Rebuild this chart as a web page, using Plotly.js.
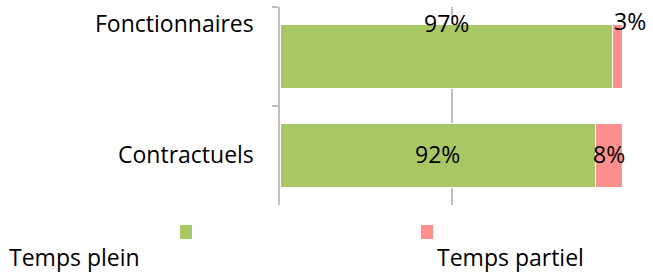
<!DOCTYPE html>
<html><head><meta charset="utf-8">
<script src="https://cdn.plot.ly/plotly-3.0.1.min.js"></script>
<style>html,body{margin:0;padding:0;background:#fff}#chart{width:653px;height:273px}</style>
</head><body><div id="chart"></div>
<script>
var categories = ["Fonctionnaires", "Contractuels"];
var seriesNames = ["Temps plein", "Temps partiel"];
var tempsPlein = [97, 92];
var tempsPartiel = [3, 8];
var colors = ["#A9C764", "#FF8F8F"];

var FONT = "Open Sans, Calibri, sans-serif";
var FS = 23;
var traces = [
  {type:"bar", orientation:"h", name:seriesNames[0], y:categories, x:tempsPlein.map(function(v){return v/100;}),
   marker:{color:colors[0], line:{color:"#fff", width:1.5}}, hoverinfo:"none"},
  {type:"bar", orientation:"h", name:seriesNames[1], y:categories, x:tempsPartiel.map(function(v){return v/100;}),
   marker:{color:colors[1], line:{color:"#fff", width:1.5}}, hoverinfo:"none"}
];

var ann = [];
var rowShift = [34, 2];
categories.forEach(function(c, i){
  ann.push({xref:"paper", x:0, y:c, yref:"y", text:c, showarrow:false, xanchor:"right", xshift:-24, yshift:rowShift[i],
    font:{family:FONT, size:FS, color:"#000"}});
  var p = tempsPlein[i]/100, q = tempsPartiel[i]/100;
  ann.push({x:p/2, y:c, text:tempsPlein[i]+"%", showarrow:false, yshift:rowShift[i], font:{family:FONT, size:FS, color:"#000"}});
  ann.push({x:p+q/2, y:c, text:tempsPartiel[i]+"%", showarrow:false, yshift:rowShift[i]+(i===0?2:0), xshift:(i===0?12:0), font:{family:FONT, size:FS, color:"#000"}});
});
// manual legend
var legX = [10, 438], legSq = [180, 421];
var shapes = [];
seriesNames.forEach(function(n, i){
  ann.push({xref:"paper", yref:"paper", x:(legX[i]-280)/343, y:(205-257)/198, text:n, showarrow:false, xanchor:"left", yanchor:"middle",
    xshift:-3, font:{family:FONT, size:FS, color:"#000"}});
  shapes.push({type:"rect", xref:"paper", yref:"paper", x0:(legSq[i]-280)/343, x1:(legSq[i]+12-280)/343,
    y0:(205-225)/198, y1:(205-239)/198, fillcolor:colors[i], line:{width:0}});
});

var layout = {
  width:653, height:273, margin:{l:280, r:30, t:7, b:68},
  paper_bgcolor:"#fff", plot_bgcolor:"#fff",
  barmode:"stack", bargap:0.35, showlegend:false,
  xaxis:{range:[0,1], dtick:0.5, showgrid:true, gridcolor:"#c0c0c0", gridwidth:2, zeroline:false,
    showticklabels:false, showline:false, fixedrange:true},
  yaxis:{autorange:"reversed", showline:true, linecolor:"#c0c0c0", linewidth:2, ticks:"outside", tickson:"boundaries",
    ticklen:6, tickcolor:"#c0c0c0", tickwidth:2, showticklabels:false, showgrid:false},
  annotations:ann, shapes:shapes
};
Plotly.newPlot("chart", traces, layout, {staticPlot:true});
</script></body></html>
